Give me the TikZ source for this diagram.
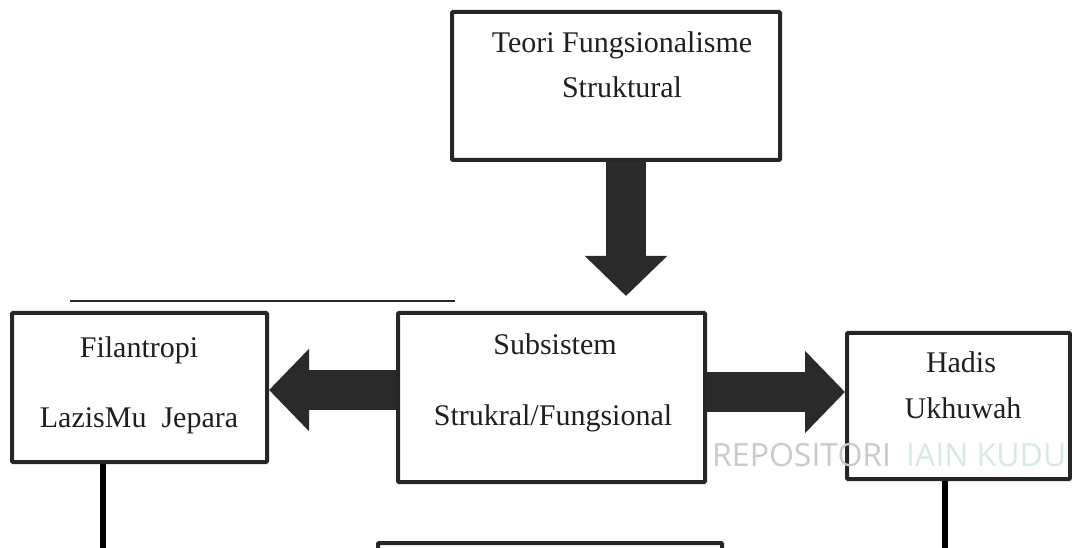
\documentclass[tikz,border=0pt]{standalone}
\usepackage{fontspec}
\setmainfont{Liberation Serif}
\newfontfamily\wmfont{Open Sans}
\usetikzlibrary{arrows.meta}
\definecolor{boxline}{HTML}{262626}
\definecolor{fatgray}{HTML}{2A2A2A}
\definecolor{wmgray}{HTML}{CACACA}
\definecolor{wmgreen}{HTML}{D3ECDF}
\tikzset{kotak/.style={draw=boxline, line width=4pt, rectangle, rounded corners=1pt, inner sep=0pt},
    isi/.style={anchor=base, inner sep=0pt, text=black!88, font=\fontsize{30}{36}\selectfont},
    panah/.style={draw=fatgray, line width=40pt, -{Triangle[length=40pt,width=80pt]}},
    garis/.style={draw=black, line width=6pt},
    tanda/.style={anchor=base west, inner sep=0pt, font=\wmfont\fontsize{32}{38}\selectfont},
    }

\begin{document}
\begin{tikzpicture}[x=1pt,y=-1pt]
	\useasboundingbox (0,0) rectangle (1072,548);
	\clip (0,0) rectangle (1072,548);
	% kotak-kotak
	\node[kotak, minimum width=328pt, minimum height=148pt] (teori) at (616,86) {};
	\node[kotak, minimum width=255pt, minimum height=149pt] (filan) at (139.5,387.5) {};
	\node[kotak, minimum width=307pt, minimum height=169pt] (subsis) at (551.5,397.5) {};
	\node[kotak, minimum width=223pt, minimum height=146pt] (hadis) at (958.5,406) {};
	\node[kotak, minimum width=344pt, minimum height=80pt] (bawah) at (550,583) {};
	% teks
	\node[isi] (teori1) at (622,53) {Teori Fungsionalisme};
	\node[isi] (teori2) at (622,98) {Struktural};
	\node[isi] (filan1) at (139,357) {Filantropi};
	\node[isi] (filan2) at (139,427) {LazisMu\ \ Jepara};
	\node[isi] (subsis1) at (555,355) {Subsistem};
	\node[isi] (subsis2) at (553,425) {Strukral/Fungsional};
	\node[isi] (hadis1) at (961,373) {Hadis};
	\node[isi] (hadis2) at (963,418) {Ukhuwah};
	% panah
	\draw[panah, shorten >=15pt] ([xshift=10pt]teori.south) -- ([xshift=10pt]teori.south |- subsis.north);
	\coordinate (kiriA) at ([yshift=7.5pt]subsis.west);
	\draw[panah] (kiriA) -- (kiriA -| filan.east);
	\coordinate (kananA) at ([yshift=5.5pt]subsis.east);
	\draw[panah] (kananA) -- (kananA -| hadis.west);
	% garis
	\coordinate (garisA) at (70,301);
	\coordinate (garisB) at (455,301);
	\draw[line width=2pt, boxline] (garisA) -- (garisB);
	\coordinate (bawahKiri) at (103,560);
	\coordinate (bawahKanan) at (945,560);
	\draw[garis] (bawahKiri |- filan.south) -- (bawahKiri);
	\draw[garis] (bawahKanan |- hadis.south) -- (bawahKanan);
	% watermark
	\node[tanda, text=wmgray] (repo) at (712,466) {REPOSITORI};
	\node[tanda, text=wmgreen] (iain) at (906,466) {IAIN KUDU};
\end{tikzpicture}
\end{document}
